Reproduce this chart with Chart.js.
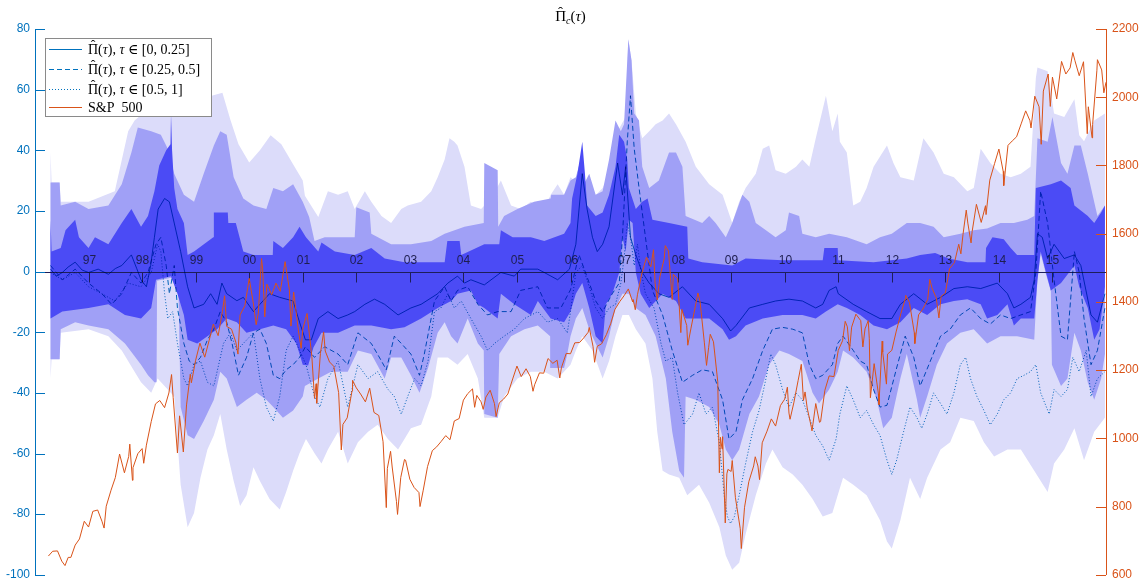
<!DOCTYPE html>
<html>
<head>
<meta charset="utf-8">
<script src="https://cdn.jsdelivr.net/npm/chart.js@4/dist/chart.umd.min.js"></script>
<style>
  html, body { margin: 0; padding: 0; background: #ffffff; }
  #wrap { width: 1148px; height: 588px; }
</style>
</head>
<body>
<div id="wrap"><canvas id="c" width="1148" height="588"></canvas></div>
<script>
// Year ticks drawn along the zero line
const yearTicks = [1997, 1998, 1999, 2000, 2001, 2002, 2003, 2004, 2005, 2006, 2007, 2008, 2009, 2010, 2011, 2012, 2013, 2014, 2015];
const yearLabels = ['97', '98', '99', '00', '01', '02', '03', '04', '05', '06', '07', '08', '09', '10', '11', '12', '13', '14', '15'];

// Pi-hat series, [year, value]
const piShort = [[1996.29,0.8],[1996.4,-1.5],[1996.51,-0.3],[1996.62,1.5],[1996.75,3.1],[1996.88,0.5],[1997.0,-0.3],[1997.18,0.8],[1997.37,-0.9],[1997.5,1],[1997.62,2],[1997.8,5.5],[1997.9,1],[1997.98,-2.7],[1998.08,-5],[1998.16,2],[1998.23,11.3],[1998.3,20.6],[1998.42,24.1],[1998.51,23],[1998.6,16],[1998.72,6.6],[1998.85,-5],[1998.97,-12],[1999.15,-10.8],[1999.28,-7.3],[1999.4,-10.8],[1999.49,-3.8],[1999.58,-7.3],[1999.77,-9.6],[1999.89,-8.5],[2000.08,-13.2],[2000.2,-10.8],[2000.38,-7.3],[2000.57,-8.5],[2000.82,-9.7],[2000.94,-16.7],[2001.05,-22.5],[2001.16,-22.5],[2001.29,-15.5],[2001.47,-13.2],[2001.66,-15.5],[2001.84,-14.3],[2001.97,-13.2],[2002.16,-10.8],[2002.34,-9.1],[2002.53,-10.8],[2002.78,-14.3],[2003.02,-12],[2003.21,-10.8],[2003.52,-7.3],[2003.71,-3.8],[2003.89,-1.5],[2004.02,-3.8],[2004.14,-2.7],[2004.39,-4.4],[2004.7,-0.3],[2004.95,-1.5],[2005.07,0.8],[2005.39,0.8],[2005.51,-0.3],[2005.76,-2.7],[2005.98,0.8],[2006.1,9],[2006.22,32.3],[2006.31,20.6],[2006.41,11.3],[2006.5,6.6],[2006.6,9],[2006.72,14.8],[2006.88,35.8],[2006.97,25.3],[2007.03,34.6],[2007.12,11.3],[2007.22,5.5],[2007.34,-0.3],[2007.47,-3.8],[2007.65,-7.3],[2007.84,-8.5],[2008.09,-5],[2008.34,-9.7],[2008.59,-10.8],[2008.84,-15.5],[2008.99,-19.6],[2009.09,-17.8],[2009.34,-12],[2009.59,-10.8],[2009.83,-9.7],[2010.08,-9.1],[2010.33,-9.7],[2010.58,-12],[2010.71,-10.8],[2010.83,-6.2],[2010.96,-5],[2011.0,-7.3],[2011.28,-10.8],[2011.53,-13.2],[2011.78,-15.5],[2012.0,-15.5],[2012.16,-10.8],[2012.41,-7.3],[2012.66,-10.8],[2012.91,-8.5],[2013.16,-5.6],[2013.41,-5],[2013.66,-5.6],[2013.97,-3.8],[2014.16,-7.3],[2014.28,-12],[2014.41,-10.8],[2014.59,-8.5],[2014.66,-2.7],[2014.72,12.5],[2014.81,11.3],[2014.91,4.3],[2015.03,9],[2015.22,4.3],[2015.41,5.5],[2015.53,2],[2015.72,-14.3],[2015.84,-16.7],[2015.98,-7.3]];

const piMid = [[1996.29,2],[1996.51,-2.7],[1996.75,0.8],[1997.0,-3.8],[1997.25,-7.3],[1997.43,-10.8],[1997.62,-7.3],[1997.8,-0.3],[1997.98,-3.8],[1998.11,-0.3],[1998.26,9],[1998.35,11.3],[1998.45,2],[1998.51,-7.3],[1998.6,2],[1998.66,-12],[1998.78,-23.7],[1998.88,-29.5],[1998.97,-30.7],[1999.09,-28.3],[1999.22,-22.5],[1999.34,-19],[1999.46,-13.2],[1999.58,-16.7],[1999.68,-23.7],[1999.8,-34.2],[1999.95,-28.3],[2000.08,-20.2],[2000.2,-19],[2000.32,-23.7],[2000.45,-34.2],[2000.57,-35.3],[2000.69,-32.4],[2000.82,-30.7],[2000.94,-28.3],[2001.05,-24.8],[2001.22,-28.3],[2001.41,-24.8],[2001.66,-27.2],[2001.84,-30.7],[2002.03,-20.2],[2002.28,-23.7],[2002.47,-29.5],[2002.56,-32.4],[2002.71,-21.3],[2002.84,-23.7],[2003.02,-27.2],[2003.18,-34.2],[2003.27,-27.2],[2003.46,-9.7],[2003.65,-5],[2003.77,-9.7],[2003.89,-6.2],[2004.08,-5],[2004.27,-10.8],[2004.45,-14.3],[2004.64,-13.2],[2004.89,-13.2],[2005.07,-6.2],[2005.39,-5],[2005.57,-12],[2005.82,-12],[2006.0,-6],[2006.16,5.5],[2006.28,-0.3],[2006.47,-9.7],[2006.6,-13.2],[2006.78,-7.3],[2006.91,-3.8],[2006.97,11.3],[2007.06,42.8],[2007.12,58],[2007.19,40.5],[2007.28,27.6],[2007.4,11.3],[2007.53,-6.2],[2007.72,-14.3],[2007.9,-26],[2008.09,-36.5],[2008.28,-34.2],[2008.46,-32.4],[2008.65,-33],[2008.84,-42.3],[2008.96,-55.2],[2009.09,-52.8],[2009.21,-42.3],[2009.4,-35.3],[2009.59,-26],[2009.77,-19],[2009.96,-18.4],[2010.15,-19],[2010.33,-20.2],[2010.46,-30.7],[2010.58,-35.3],[2010.71,-34.2],[2010.89,-30.7],[2010.99,-23.7],[2011.09,-21.3],[2011.28,-26],[2011.41,-29.5],[2011.53,-30.7],[2011.66,-38.9],[2011.78,-44.7],[2011.91,-44.1],[2012.09,-31.8],[2012.25,-21.3],[2012.41,-28.3],[2012.53,-37.7],[2012.72,-29.5],[2012.91,-21.3],[2013.09,-19],[2013.28,-14.3],[2013.47,-12],[2013.66,-15.5],[2013.84,-17.3],[2014.03,-14.3],[2014.22,-15.5],[2014.41,-14.3],[2014.59,-13.2],[2014.69,-0.3],[2014.78,26.5],[2014.91,16],[2014.97,6.6],[2015.03,-2.7],[2015.16,-21.3],[2015.28,-22.5],[2015.41,6.6],[2015.5,-0.3],[2015.59,-15.5],[2015.72,-30.7],[2015.84,-26],[2015.98,-12]];

const piLong = [[1996.29,-0.3],[1996.51,-2.7],[1996.75,-0.3],[1997.0,-5],[1997.25,-7.3],[1997.49,-9.7],[1997.74,-3.8],[1997.98,-5],[1998.17,-0.3],[1998.29,9],[1998.35,6.6],[1998.42,-7.3],[1998.48,-15.5],[1998.57,-13.2],[1998.66,-23.7],[1998.78,-35.3],[1998.85,-37.7],[1998.97,-30.7],[1999.09,-29.5],[1999.22,-36.5],[1999.34,-37.7],[1999.52,-23.7],[1999.65,-20.2],[1999.77,-26],[1999.89,-23.7],[2000.08,-20.2],[2000.2,-35.3],[2000.32,-44.7],[2000.45,-49.3],[2000.57,-41.2],[2000.69,-26],[2000.82,-21.3],[2000.94,-26],[2001.06,-30.7],[2001.22,-41.2],[2001.32,-44.7],[2001.47,-35.3],[2001.66,-29.5],[2001.84,-44.7],[2002.03,-30.7],[2002.22,-35.3],[2002.4,-33],[2002.59,-38.8],[2002.71,-41.2],[2002.84,-47],[2002.96,-41.2],[2003.09,-35.3],[2003.21,-37.7],[2003.34,-29.5],[2003.46,-13.2],[2003.58,-12],[2003.71,-7.3],[2003.83,-12],[2003.96,-9.7],[2004.14,-15.5],[2004.33,-21.3],[2004.45,-26],[2004.58,-23.7],[2004.76,-21.3],[2004.95,-19],[2005.14,-15.5],[2005.39,-13.2],[2005.57,-16.7],[2005.76,-15.5],[2005.94,-20.2],[2006.0,-13.2],[2006.1,-0.3],[2006.22,2],[2006.35,-5],[2006.47,-12],[2006.6,-15.5],[2006.72,-12],[2006.84,-10.8],[2006.94,-3.8],[2007.0,4.3],[2007.06,16],[2007.12,11.3],[2007.19,2],[2007.25,9],[2007.31,0.8],[2007.4,-7.3],[2007.56,-12],[2007.69,-23.7],[2007.78,-29.5],[2007.9,-28.3],[2008.0,-40],[2008.12,-50.5],[2008.28,-47],[2008.4,-40],[2008.53,-47],[2008.65,-44.7],[2008.78,-56.3],[2008.87,-73.8],[2008.93,-80.8],[2008.99,-83.1],[2009.06,-80.8],[2009.15,-73.8],[2009.27,-63.3],[2009.4,-52.8],[2009.52,-45.9],[2009.65,-35.3],[2009.74,-27.2],[2009.83,-30.7],[2009.96,-38.9],[2010.08,-44.7],[2010.21,-40],[2010.33,-42.3],[2010.46,-48.2],[2010.58,-54],[2010.71,-57.5],[2010.83,-62.2],[2010.96,-55.2],[2011.03,-47],[2011.16,-37.7],[2011.28,-42.3],[2011.41,-48.2],[2011.53,-45.8],[2011.66,-50.5],[2011.78,-54],[2011.91,-62.2],[2012.0,-66.9],[2012.09,-62.2],[2012.22,-52.8],[2012.34,-44.7],[2012.47,-48.2],[2012.56,-51.7],[2012.66,-47],[2012.78,-40],[2012.91,-43.5],[2013.03,-47],[2013.16,-40],[2013.28,-30.7],[2013.38,-28.3],[2013.47,-35.3],[2013.59,-41.2],[2013.72,-45.8],[2013.84,-50.5],[2013.97,-47],[2014.09,-42.3],[2014.22,-40],[2014.34,-35.3],[2014.47,-34.2],[2014.59,-33],[2014.69,-30.7],[2014.78,-40],[2014.94,-47],[2015.03,-38.9],[2015.16,-41.2],[2015.28,-38.9],[2015.38,-28.3],[2015.5,-33],[2015.63,-26],[2015.72,-41.2],[2015.84,-35.3],[2015.98,-33]];

// Interval bands: upper and lower edges, [year, value]
const darkHi = [[1996.29,17.1],[1996.31,6.6],[1996.48,7.8],[1996.57,13.6],[1996.75,17.1],[1996.82,11.3],[1997.0,7.8],[1997.12,11.3],[1997.37,9],[1997.62,16],[1997.8,20.6],[1997.98,14.8],[1998.11,18.3],[1998.23,26.5],[1998.32,35],[1998.45,40],[1998.53,42],[1998.54,52],[1998.56,40],[1998.6,27.6],[1998.66,20.6],[1998.78,16],[1998.85,5.5],[1998.97,6.6],[1999.33,11.3],[1999.34,19.5],[1999.6,19.5],[1999.61,16],[1999.75,16],[1999.89,6.6],[2000.08,5.5],[2000.44,5.5],[2000.45,10.1],[2000.63,7.8],[2000.82,11.3],[2000.94,14.8],[2001.06,11.3],[2001.29,6.6],[2001.35,9.6],[2001.6,6.6],[2001.97,5.5],[2002.28,7.8],[2002.53,4.3],[2002.9,3.1],[2003.65,3.1],[2003.7,10.1],[2003.93,10.1],[2003.96,5.5],[2004.39,9],[2004.67,9],[2004.7,13.6],[2004.92,11.3],[2005.26,11.3],[2005.51,10.1],[2005.88,12.5],[2006.0,16],[2006.03,24.1],[2006.13,32.3],[2006.22,42.8],[2006.27,32.3],[2006.31,21.8],[2006.47,18.3],[2006.6,19.5],[2006.72,25.3],[2006.84,34.6],[2006.91,45.1],[2007.0,42.8],[2007.06,37],[2007.09,27.6],[2007.22,20.6],[2007.34,23],[2007.44,24.1],[2007.53,17.1],[2007.84,16],[2008.18,14.8],[2008.2,4.3],[2008.46,3.1],[2009.02,2],[2009.27,4.3],[2009.96,3.7],[2010.71,3.7],[2010.74,7.8],[2010.99,7.8],[2011.0,3.7],[2011.66,3.1],[2012.28,4.3],[2012.53,5.5],[2012.81,6.1],[2013.06,4.3],[2013.41,3.1],[2013.75,3.1],[2013.76,7.8],[2013.88,11.3],[2014.09,10.7],[2014.22,7.8],[2014.34,5.5],[2014.66,5.5],[2014.69,27.6],[2014.97,28.8],[2015.16,30],[2015.34,27.6],[2015.41,21.8],[2015.66,18.3],[2015.78,16],[2015.91,19.5],[2015.98,21.8]];
const darkLo = [[1996.29,-15.5],[1996.51,-13.2],[1997.0,-12],[1997.37,-10.8],[1997.68,-14.3],[1997.98,-15.5],[1998.17,-12],[1998.26,-2.7],[1998.54,-1.5],[1998.66,-7.3],[1998.78,-14.3],[1998.85,-22.5],[1999.03,-23.7],[1999.22,-21.3],[1999.4,-19],[1999.58,-15.5],[1999.77,-16.7],[1999.95,-20.2],[2000.2,-19],[2000.45,-17.8],[2000.69,-19],[2000.88,-23.7],[2001.0,-30.7],[2001.1,-31],[2001.2,-25],[2001.35,-20.2],[2001.66,-20.2],[2001.97,-17.8],[2002.28,-17.8],[2002.65,-19],[2002.9,-18.4],[2003.21,-15.5],[2003.52,-12],[2003.77,-9.7],[2003.89,-7.3],[2004.14,-6.2],[2004.27,-10.8],[2004.39,-12],[2004.64,-15.5],[2004.7,-7.3],[2004.95,-10.8],[2005.26,-14.3],[2005.39,-9.7],[2005.63,-15.5],[2005.88,-16.7],[2006.0,-13.2],[2006.1,-7.3],[2006.22,-3.8],[2006.35,-12],[2006.47,-21.3],[2006.6,-23.7],[2006.66,-10.8],[2006.78,-7.3],[2006.91,-0.3],[2006.97,11.3],[2007.03,6.6],[2007.09,17.1],[2007.16,16],[2007.22,-0.3],[2007.31,-7.3],[2007.47,-12],[2007.72,-7.3],[2007.97,-9.7],[2008.15,-15.5],[2008.59,-15.5],[2008.84,-19],[2008.96,-22.5],[2009.09,-21.3],[2009.27,-17.8],[2009.59,-15.5],[2009.96,-14.3],[2010.33,-14.3],[2010.58,-15.5],[2010.77,-13.2],[2010.99,-10.8],[2011.16,-12],[2011.41,-14.3],[2011.66,-17.8],[2011.91,-19],[2012.16,-16.7],[2012.41,-12],[2012.66,-14.3],[2012.91,-10.8],[2013.16,-9.7],[2013.41,-9.1],[2013.66,-10.8],[2013.78,-15.5],[2013.97,-14.3],[2014.16,-10.8],[2014.28,-17.8],[2014.41,-15.5],[2014.66,-15.5],[2014.72,-2.7],[2014.78,6.6],[2014.88,-0.3],[2014.97,-6.2],[2015.16,-3.8],[2015.41,2],[2015.5,-5],[2015.66,-12],[2015.78,-22.5],[2015.88,-19],[2015.98,-5]];

const midHi = [[1996.29,29.4],[1996.46,29.4],[1996.48,21.8],[1996.75,23],[1997.0,20.6],[1997.37,21.8],[1997.62,28.8],[1997.8,39.3],[1997.92,47.5],[1998.17,46.3],[1998.35,45.1],[1998.48,40.5],[1998.6,32.3],[1998.78,25.3],[1998.97,23],[1999.15,32.3],[1999.34,41.6],[1999.46,46.3],[1999.58,45.1],[1999.71,31.1],[1999.89,24.1],[2000.08,21.8],[2000.32,20.6],[2000.45,27.6],[2000.63,26.5],[2000.82,28.8],[2001.0,23],[2001.12,18],[2001.22,10.1],[2001.41,11.3],[2001.97,11.3],[2002.0,21.2],[2002.25,19.5],[2002.28,12.5],[2002.65,9],[2003.02,9],[2003.4,10.1],[2003.65,12.5],[2004.02,14.8],[2004.38,16],[2004.39,35.8],[2004.64,33.4],[2004.65,14.8],[2004.76,18.3],[2005.01,20.6],[2005.32,23],[2005.63,24.1],[2005.64,25.3],[2005.88,25.3],[2006.0,30],[2006.1,31.1],[2006.19,37],[2006.25,28.8],[2006.35,32.3],[2006.47,25.3],[2006.6,26.5],[2006.72,37],[2006.84,49.8],[2006.94,46.3],[2007.0,48.6],[2007.08,76.6],[2007.14,69.6],[2007.19,52.1],[2007.28,49.8],[2007.34,34.6],[2007.47,27.6],[2007.65,30],[2007.84,39.3],[2007.97,39.3],[2008.09,34.6],[2008.15,18.3],[2008.46,16],[2008.59,18.3],[2008.71,16],[2008.9,11.3],[2009.02,16],[2009.21,25.3],[2009.34,23],[2009.46,16],[2009.65,13.6],[2009.83,11.3],[2010.02,13.6],[2010.08,19.5],[2010.27,18.3],[2010.33,12.5],[2010.58,11.3],[2010.83,12.5],[2011.16,11.3],[2011.53,9],[2011.78,11.3],[2012.0,12.5],[2012.28,16],[2012.53,16],[2012.78,14.8],[2012.97,11.3],[2013.28,12.5],[2013.53,13.6],[2013.78,14.2],[2014.03,16],[2014.28,16],[2014.53,17.1],[2014.66,18.3],[2014.72,44],[2014.91,42.8],[2015.0,51],[2015.16,35.8],[2015.28,32.3],[2015.41,41.6],[2015.53,41.6],[2015.66,32.3],[2015.84,18.3],[2015.98,21.8]];
const midLo = [[1996.29,-28.9],[1996.46,-28.9],[1996.48,-19],[1996.75,-16.7],[1997.0,-17.8],[1997.37,-19],[1997.68,-23.7],[1997.98,-30.7],[1998.11,-34.2],[1998.23,-36.5],[1998.27,-36.5],[1998.28,-3],[1998.54,-2],[1998.68,-7.3],[1998.72,-44.7],[1998.85,-54],[1998.97,-55.2],[1999.15,-49.3],[1999.34,-42.3],[1999.46,-33],[1999.58,-35.3],[1999.77,-44.7],[1999.95,-42.3],[2000.14,-40],[2000.32,-42.3],[2000.45,-44.7],[2000.63,-48.2],[2000.82,-45.8],[2001.0,-41.2],[2001.04,-37.7],[2001.29,-35.3],[2001.53,-33],[2001.84,-33],[2002.03,-26],[2002.28,-27.2],[2002.53,-35.3],[2002.65,-28.3],[2002.84,-28.3],[2003.02,-34.2],[2003.18,-40],[2003.34,-31.8],[2003.52,-20.2],[2003.65,-16.7],[2003.77,-21.3],[2003.89,-23.7],[2004.08,-15.5],[2004.27,-23.7],[2004.38,-26],[2004.39,-47],[2004.64,-48.2],[2004.67,-27.2],[2004.89,-21.3],[2005.14,-19],[2005.39,-17.8],[2005.62,-21.3],[2005.63,-31.8],[2005.88,-31.8],[2005.94,-27.2],[2006.0,-21.3],[2006.1,-15.5],[2006.22,-12],[2006.35,-19],[2006.47,-23.7],[2006.6,-28.3],[2006.72,-21.3],[2006.84,-12],[2006.97,-7.3],[2007.09,-7.3],[2007.22,-12],[2007.4,-14.3],[2007.59,-21.3],[2007.78,-35.3],[2007.9,-52.8],[2008.03,-65.7],[2008.12,-68],[2008.15,-41.2],[2008.34,-42.3],[2008.59,-44.7],[2008.78,-50.5],[2008.9,-58.7],[2009.02,-62.2],[2009.15,-58.7],[2009.34,-47],[2009.52,-41.2],[2009.71,-30.7],[2009.9,-26],[2010.08,-27.2],[2010.33,-29.5],[2010.52,-40],[2010.64,-43.5],[2010.83,-38.9],[2010.99,-33],[2011.09,-26],[2011.28,-28.3],[2011.53,-33],[2011.72,-42.3],[2011.84,-51.7],[2012.0,-48.2],[2012.16,-35.3],[2012.28,-27.2],[2012.47,-42.3],[2012.53,-48.2],[2012.66,-41.2],[2012.84,-30.7],[2013.03,-23.7],[2013.28,-20.2],[2013.53,-19],[2013.78,-23.7],[2014.03,-21.3],[2014.34,-21.3],[2014.66,-22.5],[2014.69,-12],[2014.72,-3],[2014.78,6],[2014.88,-1],[2014.97,-6.5],[2014.99,-30.7],[2015.16,-37.7],[2015.28,-35.3],[2015.41,-20.2],[2015.53,-26],[2015.66,-36.6],[2015.78,-42.3],[2015.91,-35.3],[2015.98,-27.2]];

const lightHi = [[1996.29,39.3],[1996.31,29.4],[1996.46,29.4],[1996.48,23],[1997.0,23],[1997.49,26.5],[1997.74,46.3],[1997.86,49.8],[1998.17,54.5],[1998.42,52.1],[1998.66,55],[1998.85,57],[1999.1,54],[1999.3,58],[1999.5,59],[1999.65,50],[1999.8,42],[2000.0,36],[2000.2,40],[2000.4,45],[2000.6,42],[2000.8,36],[2001.0,30],[2001.04,25],[2001.29,18],[2001.47,26.5],[2001.66,25.3],[2001.84,26.5],[2001.97,20.6],[2002.16,26.5],[2002.28,23],[2002.47,18.3],[2002.65,16],[2002.84,20.6],[2002.96,21.8],[2003.21,23],[2003.4,26.5],[2003.52,31.1],[2003.65,37],[2003.74,44],[2003.83,42.8],[2003.89,41.6],[2004.02,34.6],[2004.14,21.8],[2004.33,20.6],[2004.52,24.1],[2004.7,30],[2004.89,21.8],[2005.07,20.6],[2005.26,23],[2005.51,20.6],[2005.63,25.3],[2005.76,28.8],[2005.88,25.3],[2006.0,31.1],[2006.16,28.8],[2006.41,24.1],[2006.6,27.6],[2006.78,34.6],[2006.88,46.3],[2007.03,51],[2007.08,76.6],[2007.14,69.6],[2007.22,52.1],[2007.34,44],[2007.47,46.3],[2007.59,48.6],[2007.72,49.8],[2007.84,52.1],[2007.97,48.6],[2008.15,42.8],[2008.34,34.6],[2008.59,28.8],[2008.84,25.3],[2009.02,16],[2009.15,23],[2009.27,27.6],[2009.46,32.3],[2009.59,40.5],[2009.71,41.6],[2009.83,33.4],[2010.02,32.3],[2010.21,34.6],[2010.33,37],[2010.46,34.6],[2010.58,44],[2010.77,58],[2010.89,46.3],[2010.99,52.1],[2011.03,42.8],[2011.16,39.3],[2011.28,21.8],[2011.41,23],[2011.53,27.6],[2011.66,34.6],[2011.91,41.6],[2012.03,35.8],[2012.16,31.1],[2012.41,30],[2012.59,44],[2012.78,39.3],[2012.97,32.3],[2013.16,31.1],[2013.41,26.5],[2013.53,27.6],[2013.66,40.5],[2013.84,35.8],[2014.03,32.3],[2014.22,31.1],[2014.41,32.3],[2014.59,34.6],[2014.69,63.8],[2014.72,67.3],[2014.91,66.1],[2015.03,52.1],[2015.22,51],[2015.41,56.8],[2015.5,45],[2015.59,43],[2015.78,49.8],[2015.98,52.1]];
const lightLo = [[1996.29,-35.3],[1996.31,-28.9],[1996.46,-28.9],[1996.48,-20.2],[1997.0,-19],[1997.37,-21.3],[1997.62,-26],[1997.86,-33],[1997.98,-36.5],[1998.17,-40],[1998.29,-35.3],[1998.6,-41.2],[1998.72,-70.3],[1998.85,-84.3],[1998.97,-79.6],[1999.09,-68],[1999.22,-58.7],[1999.34,-54],[1999.46,-47],[1999.58,-58.7],[1999.71,-69.1],[1999.83,-77.3],[1999.95,-73.8],[2000.08,-64.5],[2000.2,-69.1],[2000.38,-75],[2000.57,-78.5],[2000.69,-72.7],[2000.82,-65.7],[2000.94,-59.9],[2001.06,-55.2],[2001.22,-59.9],[2001.35,-63.3],[2001.47,-58.7],[2001.66,-52.8],[2001.84,-63.3],[2002.03,-56.3],[2002.22,-52.8],[2002.4,-50.5],[2002.59,-55.2],[2002.78,-58.7],[2002.9,-55.2],[2003.02,-51.7],[2003.21,-50.5],[2003.4,-41.2],[2003.52,-28.3],[2003.71,-28.3],[2003.89,-30.7],[2004.08,-27.2],[2004.27,-35.3],[2004.39,-48.2],[2004.64,-48.2],[2004.76,-41.2],[2005.01,-35.3],[2005.26,-33],[2005.51,-33],[2005.76,-35.3],[2006.0,-30.7],[2006.1,-26],[2006.22,-21.3],[2006.41,-26],[2006.6,-35.3],[2006.72,-29.5],[2006.84,-21.3],[2006.97,-14.3],[2007.09,-14.3],[2007.22,-19],[2007.4,-23.7],[2007.53,-35.3],[2007.62,-52.8],[2007.72,-65.7],[2007.84,-66.9],[2008.03,-68],[2008.18,-73.8],[2008.4,-70.3],[2008.59,-76.2],[2008.78,-84.3],[2008.9,-93.6],[2009.02,-98.3],[2009.15,-96],[2009.27,-86.6],[2009.46,-73.8],[2009.65,-63.3],[2009.77,-58.7],[2009.96,-64.5],[2010.15,-66.9],[2010.33,-70.3],[2010.52,-75],[2010.71,-80.8],[2010.89,-79.6],[2010.99,-73.8],[2011.09,-68],[2011.28,-70.3],[2011.53,-73.8],[2011.78,-82],[2011.91,-89],[2012.0,-91.3],[2012.16,-82],[2012.34,-68],[2012.53,-75],[2012.66,-68],[2012.91,-58.7],[2013.09,-56.3],[2013.28,-48.2],[2013.53,-49.3],[2013.72,-56.3],[2013.91,-61],[2014.16,-58.7],[2014.41,-58.7],[2014.66,-65.7],[2014.91,-72.7],[2015.03,-63.3],[2015.22,-58.7],[2015.41,-51.7],[2015.59,-62.2],[2015.78,-52.8],[2015.98,-48.2]];

// S&P 500 index level, [year, points]
const spx = [[1996.25,655],[1996.33,669],[1996.42,670],[1996.5,640],[1996.56,627],[1996.62,651],[1996.67,651],[1996.75,687],[1996.83,705],[1996.92,757],[1997.0,740],[1997.08,786],[1997.17,790],[1997.25,757],[1997.29,737],[1997.33,801],[1997.42,848],[1997.5,885],[1997.58,954],[1997.67,899],[1997.75,947],[1997.77,983],[1997.82,877],[1997.83,914],[1997.92,955],[1998.0,970],[1998.03,927],[1998.08,980],[1998.17,1049],[1998.25,1101],[1998.33,1111],[1998.42,1090],[1998.5,1133],[1998.55,1187],[1998.58,1120],[1998.66,957],[1998.7,1066],[1998.77,960],[1998.83,1098],[1998.9,1188],[1998.92,1163],[1999.0,1229],[1999.08,1279],[1999.17,1238],[1999.25,1286],[1999.33,1335],[1999.42,1301],[1999.5,1372],[1999.54,1418],[1999.58,1328],[1999.67,1320],[1999.75,1282],[1999.79,1247],[1999.83,1362],[1999.92,1389],[2000.0,1469],[2000.08,1394],[2000.13,1333],[2000.17,1366],[2000.23,1527],[2000.25,1499],[2000.29,1356],[2000.33,1452],[2000.42,1421],[2000.5,1455],[2000.58,1431],[2000.67,1518],[2000.75,1436],[2000.78,1329],[2000.83,1429],[2000.92,1315],[2000.97,1264],[2001.0,1320],[2001.08,1366],[2001.17,1240],[2001.22,1117],[2001.25,1160],[2001.26,1103],[2001.33,1249],[2001.39,1312],[2001.42,1256],[2001.5,1224],[2001.58,1211],[2001.67,1134],[2001.72,966],[2001.75,1041],[2001.83,1060],[2001.92,1139],[2001.93,1170],[2002.0,1148],[2002.08,1130],[2002.17,1107],[2002.25,1147],[2002.33,1076],[2002.42,1067],[2002.5,990],[2002.56,797],[2002.58,912],[2002.64,962],[2002.67,916],[2002.75,815],[2002.77,777],[2002.83,885],[2002.9,938],[2002.92,936],[2003.0,880],[2003.08,856],[2003.17,841],[2003.19,800],[2003.25,848],[2003.33,917],[2003.42,964],[2003.5,975],[2003.58,990],[2003.67,1008],[2003.75,996],[2003.83,1051],[2003.92,1058],[2004.0,1112],[2004.08,1131],[2004.17,1145],[2004.21,1091],[2004.25,1126],[2004.33,1107],[2004.37,1085],[2004.42,1121],[2004.5,1141],[2004.58,1102],[2004.61,1064],[2004.67,1104],[2004.75,1115],[2004.83,1130],[2004.92,1174],[2005.0,1212],[2005.08,1181],[2005.17,1204],[2005.25,1181],[2005.3,1138],[2005.33,1157],[2005.42,1192],[2005.5,1191],[2005.58,1234],[2005.67,1220],[2005.75,1229],[2005.8,1177],[2005.83,1207],[2005.92,1249],[2006.0,1248],[2006.08,1280],[2006.17,1281],[2006.25,1295],[2006.33,1311],[2006.35,1325],[2006.42,1270],[2006.45,1223],[2006.5,1270],[2006.58,1277],[2006.67,1304],[2006.75,1336],[2006.83,1378],[2006.92,1401],[2007.0,1418],[2007.08,1438],[2007.16,1400],[2007.17,1407],[2007.21,1377],[2007.25,1421],[2007.33,1482],[2007.42,1531],[2007.5,1503],[2007.55,1553],[2007.58,1455],[2007.62,1406],[2007.67,1474],[2007.75,1527],[2007.77,1565],[2007.83,1549],[2007.9,1407],[2007.92,1481],[2008.0,1468],[2008.06,1310],[2008.08,1378],[2008.17,1331],[2008.19,1273],[2008.25,1323],[2008.33,1386],[2008.38,1426],[2008.42,1400],[2008.5,1280],[2008.54,1214],[2008.58,1267],[2008.61,1305],[2008.67,1283],[2008.75,1166],[2008.78,899],[2008.8,1003],[2008.83,969],[2008.84,1005],[2008.89,752],[2008.92,896],[2008.94,909],[2009.0,903],[2009.02,935],[2009.08,826],[2009.17,735],[2009.19,677],[2009.25,798],[2009.33,873],[2009.42,919],[2009.45,946],[2009.5,919],[2009.53,879],[2009.58,987],[2009.67,1021],[2009.75,1057],[2009.83,1036],[2009.92,1096],[2010.0,1115],[2010.05,1150],[2010.08,1074],[2010.1,1056],[2010.17,1104],[2010.25,1169],[2010.31,1217],[2010.35,1111],[2010.38,1136],[2010.42,1089],[2010.5,1031],[2010.51,1022],[2010.58,1102],[2010.65,1047],[2010.67,1049],[2010.75,1141],[2010.83,1183],[2010.92,1181],[2011.0,1258],[2011.08,1286],[2011.13,1343],[2011.17,1327],[2011.21,1257],[2011.25,1326],[2011.33,1364],[2011.42,1345],[2011.46,1268],[2011.5,1321],[2011.56,1345],[2011.58,1292],[2011.6,1119],[2011.67,1219],[2011.75,1131],[2011.76,1099],[2011.82,1285],[2011.83,1253],[2011.9,1159],[2011.92,1247],[2012.0,1258],[2012.08,1312],[2012.17,1366],[2012.25,1408],[2012.26,1419],[2012.33,1398],[2012.42,1310],[2012.43,1278],[2012.5,1362],[2012.58,1379],[2012.67,1407],[2012.71,1466],[2012.75,1441],[2012.83,1412],[2012.88,1353],[2012.92,1416],[2013.0,1426],[2013.08,1498],[2013.17,1515],[2013.25,1569],[2013.29,1541],[2013.33,1598],[2013.39,1669],[2013.42,1631],[2013.48,1573],[2013.5,1606],[2013.58,1686],[2013.67,1633],[2013.75,1682],[2013.76,1656],[2013.83,1757],[2013.92,1806],[2014.0,1848],[2014.08,1783],[2014.09,1741],[2014.17,1859],[2014.25,1872],[2014.33,1884],[2014.42,1924],[2014.5,1960],[2014.58,1931],[2014.6,1910],[2014.67,2003],[2014.75,1972],[2014.79,1862],[2014.83,2018],[2014.92,2068],[2014.96,1973],[2015.0,2059],[2015.08,1995],[2015.17,2105],[2015.25,2068],[2015.33,2086],[2015.38,2131],[2015.42,2107],[2015.5,2063],[2015.58,2104],[2015.65,1893],[2015.67,1972],[2015.74,1881],[2015.75,1920],[2015.83,2079],[2015.84,2110],[2015.92,2080],[2015.96,2013],[2016.0,2044]];

const BLUE = '#0072BD';
const ORANGE = '#D95319';
const BAND_DARK = '#4b4bf5';
const BAND_MID = '#a0a0f6';
const BAND_LIGHT = '#dcdcfa';

const toXY = a => a.map(p => ({ x: p[0], y: p[1] }));
// closed outline: along the upper edge, then back along the lower edge
const bandShape = (hi, lo) => toXY(hi.concat(lo.slice().reverse()));

const SERIF = "'Liberation Serif', 'DejaVu Serif', serif";
const SANS = "'Liberation Sans', Arial, sans-serif";

function fontFor(r, size) {
  return (r.it ? 'italic ' : '') + (r.size || size) + 'px ' + SERIF;
}
// text runs in a row; a run flagged "hat" gets a circumflex over it
function runsWidth(ctx, runs, size) {
  let w = 0;
  for (const r of runs) { ctx.font = fontFor(r, size); w += ctx.measureText(r.t).width; }
  return w;
}
function drawRuns(ctx, runs, x, y, size) {
  for (const r of runs) {
    ctx.font = fontFor(r, size);
    const w = ctx.measureText(r.t).width;
    ctx.fillText(r.t, x, y + (r.dy || 0));
    if (r.hat) {
      ctx.textAlign = 'center';
      ctx.fillText('ˆ', x + w / 2, y - size * 0.28);
      ctx.textAlign = 'left';
    }
    x += w;
  }
  return x;
}

const piRuns = tail => [{ t: 'Π', hat: true }, { t: '(' }, { t: 'τ', it: true }, { t: '), ' }, { t: 'τ', it: true }, { t: ' ∈ ' + tail }];
const legendRows = [
  { color: BLUE, dash: [], runs: piRuns('[0, 0.25]') },
  { color: BLUE, dash: [5, 3], runs: piRuns('[0.25, 0.5]') },
  { color: BLUE, dash: [1, 2], runs: piRuns('[0.5, 1]') },
  { color: ORANGE, dash: [], runs: [{ t: 'S&P  500' }] }
];

const decor = {
  id: 'decor',
  beforeDatasetDraw(chart, args) {
    // the Pi-hat lines are tinted by the bands they cross
    if (args.index >= 1 && args.index <= 3) chart.ctx.globalCompositeOperation = 'multiply';
  },
  afterDatasetDraw(chart, args) {
    const { ctx, scales: { x, y }, chartArea } = chart;
    ctx.globalCompositeOperation = 'source-over';
    // zero axis with year ticks, laid over the bands and under the lines
    if (args.index !== 4) return;
    const y0 = Math.round(y.getPixelForValue(0)) + 0.5;
    ctx.save();
    ctx.strokeStyle = '#1e1e5a';
    ctx.lineWidth = 1;
    ctx.beginPath();
    ctx.moveTo(chartArea.left, y0);
    ctx.lineTo(chartArea.right, y0);
    ctx.stroke();
    ctx.font = '12px ' + SANS;
    ctx.fillStyle = '#1e1e50';
    ctx.textAlign = 'center';
    ctx.textBaseline = 'middle';
    yearTicks.forEach((yr, i) => {
      const px = Math.round(x.getPixelForValue(yr)) + 0.5;
      ctx.beginPath();
      ctx.moveTo(px, y0);
      ctx.lineTo(px, y0 + 10);
      ctx.stroke();
      ctx.fillText(yearLabels[i], px, y0 - 12);
    });
    ctx.restore();
  },
  afterDraw(chart) {
    const { ctx, scales: { y, y2 }, chartArea } = chart;
    ctx.save();
    // inward tick marks on both value axes
    ctx.lineWidth = 1;
    ctx.strokeStyle = BLUE;
    y.ticks.forEach(t => {
      const py = Math.round(y.getPixelForValue(t.value)) + 0.5;
      ctx.beginPath(); ctx.moveTo(chartArea.left, py); ctx.lineTo(chartArea.left + 10, py); ctx.stroke();
    });
    ctx.strokeStyle = ORANGE;
    y2.ticks.forEach(t => {
      const py = Math.round(y2.getPixelForValue(t.value)) + 0.5;
      ctx.beginPath(); ctx.moveTo(chartArea.right - 10, py); ctx.lineTo(chartArea.right, py); ctx.stroke();
    });

    // title
    ctx.fillStyle = '#000000';
    ctx.textBaseline = 'alphabetic';
    ctx.textAlign = 'left';
    const titleRuns = [{ t: 'Π', hat: true }, { t: 'c', it: true, size: 10, dy: 3 }, { t: '(' }, { t: 'τ', it: true }, { t: ')' }];
    const tw = runsWidth(ctx, titleRuns, 15);
    drawRuns(ctx, titleRuns, (chartArea.left + chartArea.right) / 2 - tw / 2, 21, 15);

    // legend box
    const bx = 45.5, by = 38.5, bw = 166, bh = 78;
    ctx.fillStyle = '#ffffff';
    ctx.fillRect(bx, by, bw, bh);
    ctx.strokeStyle = '#8a8a8a';
    ctx.lineWidth = 1;
    ctx.strokeRect(bx, by, bw, bh);
    const rowY = [49, 69, 89, 107];
    legendRows.forEach((row, i) => {
      const ly = rowY[i] + 0.5;
      ctx.strokeStyle = row.color;
      ctx.setLineDash(row.dash);
      ctx.beginPath(); ctx.moveTo(49, ly); ctx.lineTo(82, ly); ctx.stroke();
      ctx.setLineDash([]);
      ctx.fillStyle = '#000000';
      drawRuns(ctx, row.runs, 88, rowY[i] + 5, 14);
    });
    ctx.restore();
  }
};

new Chart(document.getElementById('c'), {
  type: 'line',
  data: {
    datasets: [
      { label: 'S&P 500', data: toXY(spx), yAxisID: 'y2', borderColor: ORANGE, borderWidth: 1, pointRadius: 0, fill: false, order: 0 },
      { label: 'tau 0-0.25', data: toXY(piShort), yAxisID: 'y', borderColor: BLUE, borderWidth: 1, pointRadius: 0, fill: false, order: 1 },
      { label: 'tau 0.25-0.5', data: toXY(piMid), yAxisID: 'y', borderColor: BLUE, borderWidth: 1, borderDash: [5, 3], pointRadius: 0, fill: false, order: 2 },
      { label: 'tau 0.5-1', data: toXY(piLong), yAxisID: 'y', borderColor: BLUE, borderWidth: 1, borderDash: [1, 2], pointRadius: 0, fill: false, order: 3 },
      { label: 'band inner', data: bandShape(darkHi, darkLo), yAxisID: 'y', fill: 'shape', backgroundColor: BAND_DARK, borderColor: 'rgba(0,0,0,0)', borderWidth: 0, pointRadius: 0, order: 4 },
      { label: 'band middle', data: bandShape(midHi, midLo), yAxisID: 'y', fill: 'shape', backgroundColor: BAND_MID, borderColor: 'rgba(0,0,0,0)', borderWidth: 0, pointRadius: 0, order: 5 },
      { label: 'band outer', data: bandShape(lightHi, lightLo), yAxisID: 'y', fill: 'shape', backgroundColor: BAND_LIGHT, borderColor: 'rgba(0,0,0,0)', borderWidth: 0, pointRadius: 0, order: 6 }
    ]
  },
  options: {
    responsive: false,
    animation: false,
    events: [],
    devicePixelRatio: 1,
    layout: { padding: { top: 29, bottom: 11, left: 0, right: 0 } },
    elements: { line: { tension: 0 } },
    plugins: { legend: { display: false }, tooltip: { enabled: false }, title: { display: false } },
    scales: {
      x: { type: 'linear', min: 1996, max: 2016, display: false },
      y: {
        position: 'left', min: -100, max: 80,
        ticks: { stepSize: 20, color: BLUE, font: { family: SANS, size: 12 }, padding: 5, callback: v => String(v) },
        grid: { display: false, drawTicks: false },
        border: { display: true, color: BLUE, width: 1 },
        afterFit(s) { s.width = 35; }
      },
      y2: {
        position: 'right', min: 600, max: 2200,
        ticks: { stepSize: 200, color: ORANGE, font: { family: SANS, size: 12 }, padding: 6, callback: v => String(v) },
        grid: { display: false, drawTicks: false },
        border: { display: true, color: ORANGE, width: 1 },
        afterFit(s) { s.width = 42; }
      }
    }
  },
  plugins: [decor]
});
</script>
</body>
</html>
